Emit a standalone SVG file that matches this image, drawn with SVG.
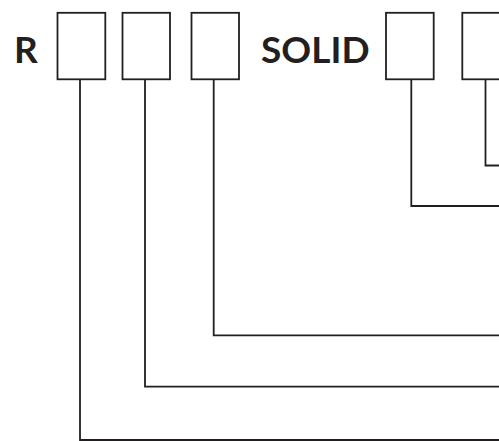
<svg xmlns="http://www.w3.org/2000/svg" width="499" height="441" viewBox="0 0 499 441">
<style>
.box{fill:#fff;stroke:#231f20;stroke-width:1.8}
.ln{fill:none;stroke:#231f20;stroke-width:1.8}
.lbl{font-family:Lato,"Liberation Sans",sans-serif;font-weight:700;font-size:37px;fill:#231f20}
</style>
<rect width="499" height="441" fill="#fff"/>
<g id="connectors">
<polyline class="ln" points="80,79.3 80,440 499,440"/>
<polyline class="ln" points="145,79.3 145,386.7 499,386.7"/>
<polyline class="ln" points="213.7,79.3 213.7,335.3 499,335.3"/>
<polyline class="ln" points="411.3,79.3 411.3,206 499,206"/>
<polyline class="ln" points="485.5,79.3 485.5,165.5 499,165.5"/>
</g>
<g id="label-r"><text class="lbl" x="14" y="62.7">R</text></g>
<g id="label-solid"><text class="lbl" x="261" y="62.7">SOLID</text></g>
<g id="box1"><rect class="box" x="57.5" y="12.8" width="47.8" height="66.5"/></g>
<g id="box2"><rect class="box" x="122.5" y="12.8" width="47.5" height="66.5"/></g>
<g id="box3"><rect class="box" x="191.5" y="12.8" width="47.5" height="66.5"/></g>
<g id="box4"><rect class="box" x="386" y="12.8" width="47.7" height="66.5"/></g>
<g id="box5"><rect class="box" x="462.3" y="12.8" width="47.5" height="66.5"/></g>
</svg>
